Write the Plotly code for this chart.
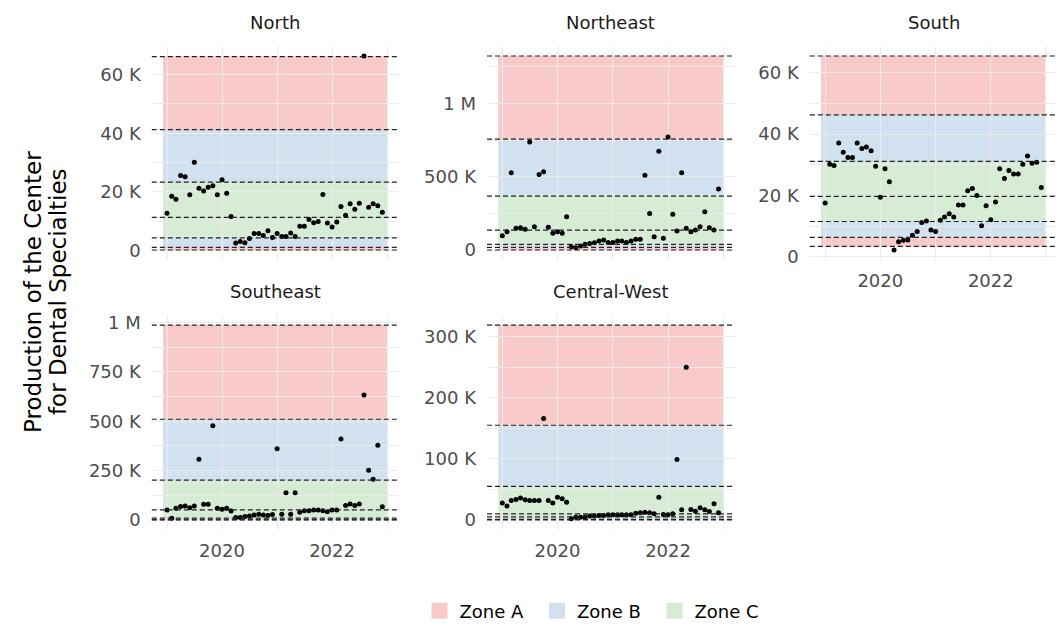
import plotly.graph_objects as go
import pandas as pd

# ---------------- data ----------------
months = pd.date_range("2019-01-01", "2022-12-01", freq="MS")

north = [12700, 18500, 17500, 25600, 25200, 19000, 30100, 21200, 20300, 21600, 22100, 19000,
         24100, 19500, 11600, 2600, 3100, 2700, 4100, 5800, 5800, 5100, 6800, 4500,
         5800, 4800, 4800, 6000, 4800, 8300, 8300, 10600, 9500, 9900, 19100, 9400,
         8000, 9700, 15000, 12000, 16000, 14100, 16100, 66300, 14800, 16000, 15300, 13100]

northeast = [98000, 125000, 527000, 148000, 152000, 141000, 738000, 159000, 516000, 534000, 155000, 114000,
             125000, 114000, 227000, 23000, 16000, 27000, 39000, 45000, 50000, 61000, 68000, 52000,
             52000, 61000, 61000, 52000, 61000, 73000, 73000, 511000, 250000, 91000, 675000, 80000,
             772000, 245000, 130000, 527000, 148000, 125000, 136000, 159000, 261000, 152000, 136000, 416000]

south = [17500, 30200, 29800, 37100, 34100, 32400, 32400, 37100, 35300, 35800, 34600, 29500,
         19400, 28700, 24500, 2200, 4900, 5400, 5500, 7000, 8200, 11200, 11700, 8700,
         8200, 11900, 13000, 14000, 13000, 16900, 16900, 21500, 22300, 20000, 10100, 16600,
         12100, 17900, 28700, 25500, 28100, 27000, 27000, 30200, 32900, 30500, 30800, 22600]

southeast = [51000, 8000, 59000, 68000, 71000, 62000, 71000, 307000, 79000, 79000, 477000, 59000,
             54000, 59000, 45000, 12000, 13000, 17000, 20000, 25000, 29000, 25000, 22000, 27000,
             360000, 29000, 138000, 29000, 138000, 39000, 46000, 47000, 51000, 51000, 47000, 42000,
             51000, 51000, 410000, 73000, 81000, 73000, 81000, 633000, 252000, 206000, 378000, 67000]

central_west = [27600, 22700, 32000, 33600, 35800, 33000, 32000, 32000, 32000, 166000, 32000, 27600,
                37000, 34700, 29000, 2000, 4600, 4600, 5000, 6300, 6300, 7400, 7400, 8500,
                8500, 8500, 8500, 8500, 8500, 11000, 11800, 12800, 11800, 10000, 37000, 9000,
                8500, 10000, 99000, 16700, 250000, 17200, 14400, 20000, 16700, 14000, 26500, 11800]

# control limits (upper 3s, 2s, 1s, centre, lower 1s, 2s, 3s)
north_limits = [66100, 41200, 23300, 11300, 4300, 1100, 200]
northeast_limits = [1325000, 757000, 368000, 136000, 39000, 18000, 0]
south_limits = [65500, 46300, 31100, 19700, 11500, 6300, 3400]
southeast_limits = [987000, 510000, 202000, 51000, 9000, 1000, 0]
central_west_limits = [319000, 155000, 55000, 10000, 5000, 1000, 0]

regions = ["North", "Northeast", "South", "Southeast", "Central-West"]
series = {"North": north, "Northeast": northeast, "South": south,
          "Southeast": southeast, "Central-West": central_west}
limits = {"North": north_limits, "Northeast": northeast_limits, "South": south_limits,
          "Southeast": southeast_limits, "Central-West": central_west_limits}

y_tick_vals = {
    "North": [0, 20000, 40000, 60000],
    "Northeast": [0, 500000, 1000000],
    "South": [0, 20000, 40000, 60000],
    "Southeast": [0, 250000, 500000, 750000, 1000000],
    "Central-West": [0, 100000, 200000, 300000],
}
y_tick_text = {
    "North": ["0", "20 K", "40 K", "60 K"],
    "Northeast": ["0", "500 K", "1 M"],
    "South": ["0", "20 K", "40 K", "60 K"],
    "Southeast": ["0", "250 K", "500 K", "750 K", "1 M"],
    "Central-West": ["0", "100 K", "200 K", "300 K"],
}
y_minor_vals = {
    "North": [10000, 30000, 50000],
    "Northeast": [250000, 750000, 1250000],
    "South": [10000, 30000, 50000],
    "Southeast": [125000, 375000, 625000, 875000],
    "Central-West": [50000, 150000, 250000],
}
x_tick_vals = ["2020-01-01", "2022-01-01"]
x_tick_text = ["2020", "2022"]
x_minor_vals = ["2019-01-01", "2021-01-01", "2023-01-01"]

zone_names = ["Zone A", "Zone B", "Zone C"]
zone_colors = ["rgba(228,26,28,0.23)", "rgba(55,126,184,0.23)", "rgba(77,175,74,0.23)"]

band_start = pd.Timestamp("2018-12-05")
band_end = pd.Timestamp("2023-01-01")

# ---------------- layout geometry ----------------
W, H = 1062, 626
panel_px = {
    "North": (151.8, 398.2, 46.3, 259.7),
    "Northeast": (487.0, 734.5, 46.3, 259.7),
    "South": (809.8, 1057.2, 46.3, 259.7),
    "Southeast": (151.8, 398.2, 315.3, 529.7),
    "Central-West": (487.0, 734.5, 315.3, 529.7),
}
show_x_labels = {"North": False, "Northeast": False, "South": True,
                 "Southeast": True, "Central-West": True}

span = band_end - band_start
x_range = [(band_start - span * 0.05).strftime("%Y-%m-%d %H:%M"),
           (band_end + span * 0.05).strftime("%Y-%m-%d %H:%M")]

FONT = "DejaVu Sans"
GRID = "#EBEBEB"

fig = go.Figure()
shapes = []
annotations = []
layout_axes = {}

for i, reg in enumerate(regions, start=1):
    xa = "x" if i == 1 else f"x{i}"
    ya = "y" if i == 1 else f"y{i}"
    xkey = "xaxis" if i == 1 else f"xaxis{i}"
    ykey = "yaxis" if i == 1 else f"yaxis{i}"
    x0, x1, y0, y1 = panel_px[reg]
    vals = series[reg]
    lim = limits[reg]

    lo = min(min(vals), min(lim))
    hi = max(max(vals), max(lim))
    pad = 0.05 * (hi - lo)

    # zone bands
    bands = [(lim[0], lim[1], 0), (lim[1], lim[2], 1), (lim[2], lim[4], 2),
             (lim[4], lim[5], 1), (lim[5], lim[6], 0)]
    for a, b, z in bands:
        shapes.append(dict(type="rect", xref=xa, yref=ya, x0=band_start, x1=band_end,
                           y0=b, y1=a, fillcolor=zone_colors[z], line=dict(width=0),
                           layer="below"))
    # dashed limit lines
    for v in lim:
        shapes.append(dict(type="line", xref=f"{xa} domain", yref=ya, x0=0, x1=1,
                           y0=v, y1=v, line=dict(color="#222222", width=1.2, dash="5px,3px"),
                           layer="above"))

    fig.add_trace(go.Scatter(x=months, y=vals, mode="markers", xaxis=xa, yaxis=ya,
                             marker=dict(color="black", size=5), showlegend=False,
                             hoverinfo="x+y"))

    layout_axes[xkey] = dict(
        domain=[x0 / W, x1 / W], anchor=ya, type="date", range=x_range,
        tickmode="array", tickvals=x_tick_vals, ticktext=x_tick_text,
        showticklabels=show_x_labels[reg], ticks="", ticklabelstandoff=8,
        tickfont=dict(family=FONT, size=18, color="#4D4D4D"), automargin=False,
        showgrid=True, gridcolor=GRID, gridwidth=1.2, zeroline=False, showline=False,
        minor=dict(tickmode="array", tickvals=x_minor_vals, showgrid=True,
                   gridcolor=GRID, gridwidth=0.7, ticks=""),
    )
    layout_axes[ykey] = dict(
        domain=[1 - y1 / H, 1 - y0 / H], anchor=xa, range=[lo - pad, hi + pad],
        tickmode="array", tickvals=y_tick_vals[reg], ticktext=y_tick_text[reg],
        ticks="", ticklabelstandoff=10, automargin=False,
        tickfont=dict(family=FONT, size=18, color="#4D4D4D"),
        showgrid=True, gridcolor=GRID, gridwidth=1.2, zeroline=False, showline=False,
        minor=dict(tickmode="array", tickvals=y_minor_vals[reg], showgrid=True,
                   gridcolor=GRID, gridwidth=0.7, ticks=""),
    )

    annotations.append(dict(text=reg, x=(x0 + x1) / 2 / W, y=1 - (y0 - 23.5) / H,
                            xref="paper", yref="paper", showarrow=False,
                            xanchor="center", yanchor="middle",
                            font=dict(family=FONT, size=18, color="#1A1A1A")))

# y-axis title (two lines)
annotations.append(dict(text="Production of the Center", x=33 / W, y=1 - 292 / H,
                        xref="paper", yref="paper", showarrow=False, textangle=-90,
                        xanchor="center", yanchor="middle",
                        font=dict(family=FONT, size=23, color="black")))
annotations.append(dict(text="for Dental Specialties", x=58 / W, y=1 - 292 / H,
                        xref="paper", yref="paper", showarrow=False, textangle=-90,
                        xanchor="center", yanchor="middle",
                        font=dict(family=FONT, size=23, color="black")))

# legend entries
for name, col in zip(zone_names, zone_colors):
    fig.add_trace(go.Scatter(x=[None], y=[None], mode="markers", name=name,
                             marker=dict(symbol="square", size=18, color=col),
                             showlegend=True))

fig.update_layout(
    width=W, height=H, margin=dict(l=0, r=0, t=0, b=0, autoexpand=False),
    paper_bgcolor="white", plot_bgcolor="white",
    shapes=shapes, annotations=annotations,
    legend=dict(orientation="h", x=596 / W, y=1 - 611 / H, xanchor="center",
                yanchor="middle", font=dict(family=FONT, size=18, color="black"),
                itemsizing="trace", bgcolor="rgba(0,0,0,0)", entrywidth=72.5,
                entrywidthmode="pixels"),
    font=dict(family=FONT),
    **layout_axes,
)

fig.write_html("out.html", config={"displayModeBar": False},
               post_script="document.body.style.margin='0';document.body.style.overflow='hidden';")
